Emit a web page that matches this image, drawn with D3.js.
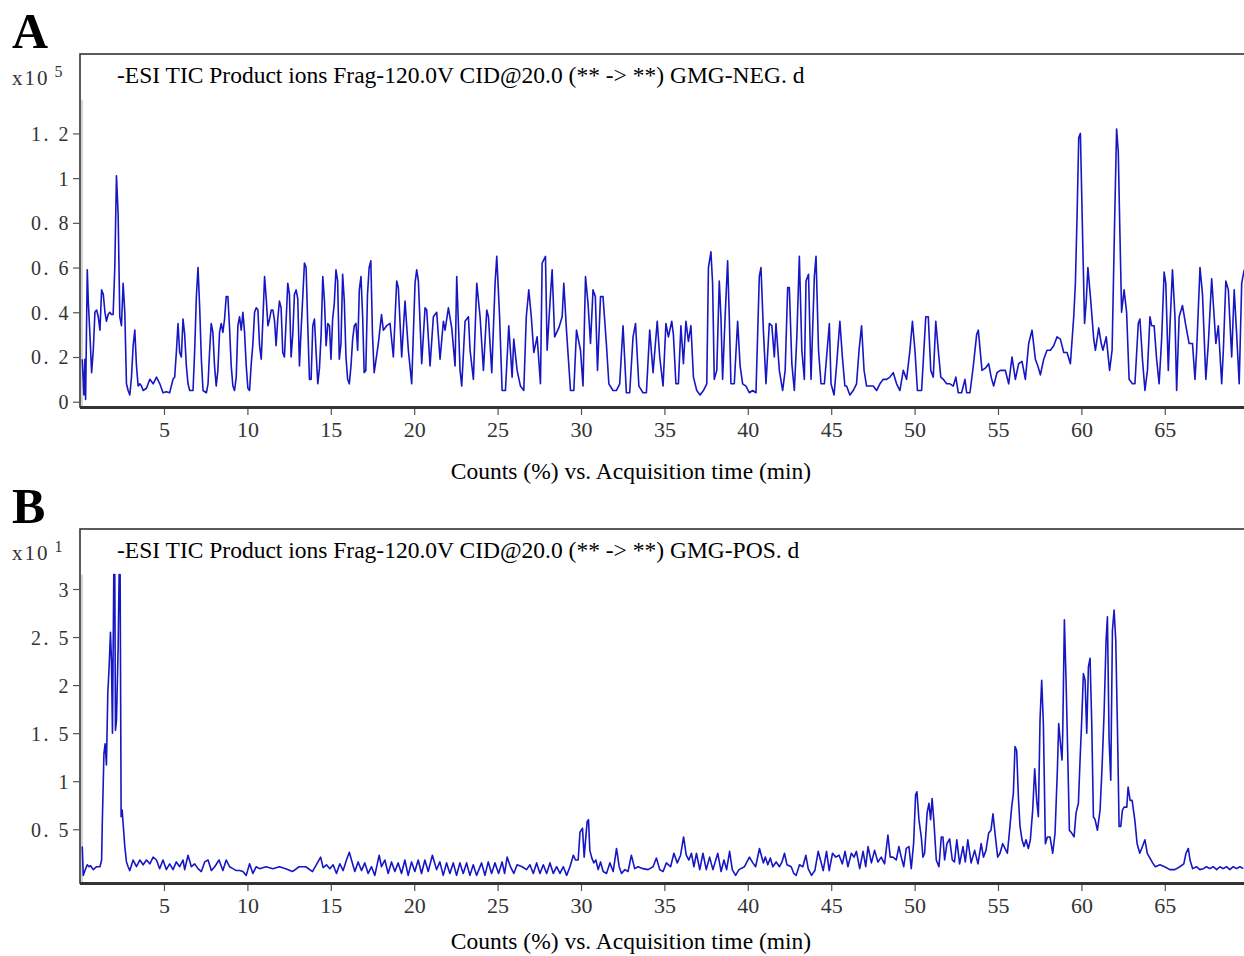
<!DOCTYPE html>
<html>
<head>
<meta charset="utf-8">
<script src="https://cdn.jsdelivr.net/npm/d3@7"></script>
<style>
  body { margin: 0; background: #fff; }
  svg { display: block; }
</style>
</head>
<body>
<div id="chart"></div>
<script>
// time ticks (min), shared by both traces
const timeTicks = [5, 10, 15, 20, 25, 30, 35, 40, 45, 50, 55, 60, 65];

// y ticks for each panel (counts x10^5 and x10^1)
const negTicks = [0, 0.2, 0.4, 0.6, 0.8, 1, 1.2];
const posTicks = [0.5, 1, 1.5, 2, 2.5, 3];

const negTitle = "-ESI TIC Product ions Frag-120.0V CID@20.0 (** -> **) GMG-NEG. d";
const posTitle = "-ESI TIC Product ions Frag-120.0V CID@20.0 (** -> **) GMG-POS. d";
const xTitle = "Counts (%) vs. Acquisition time (min)";

// [time (min), counts]
const negTrace = [
  [0.1,0.19],[0.2,0.03],[0.26,0.19],[0.3,0.01],[0.4,0.59],[0.46,0.45],[0.56,0.3],[0.66,0.13],[0.76,0.23],[0.86,0.4],
  [0.96,0.41],[1.06,0.38],[1.16,0.32],[1.26,0.5],[1.36,0.48],[1.46,0.4],[1.55,0.36],[1.65,0.39],[1.75,0.4],[1.85,0.39],
  [1.95,0.39],[2.05,0.6],[2.15,1.01],[2.25,0.84],[2.35,0.38],[2.45,0.34],[2.55,0.53],[2.65,0.4],[2.75,0.08],[2.85,0.05],
  [2.95,0.03],[3.05,0.11],[3.15,0.25],[3.25,0.32],[3.35,0.16],[3.45,0.07],[3.55,0.08],[3.65,0.07],[3.75,0.05],[3.95,0.06],
  [4.15,0.1],[4.35,0.08],[4.55,0.11],[4.75,0.08],[4.94,0.04],[5.14,0.045],[5.34,0.04],[5.54,0.1],[5.64,0.11],[5.74,0.22],
  [5.84,0.35],[5.94,0.22],[6.04,0.2],[6.14,0.37],[6.24,0.3],[6.34,0.16],[6.44,0.08],[6.54,0.05],[6.74,0.05],[6.84,0.23],
  [6.94,0.47],[7.04,0.6],[7.14,0.42],[7.24,0.19],[7.34,0.05],[7.54,0.04],[7.64,0.08],[7.73,0.22],[7.83,0.35],[7.93,0.31],
  [8.03,0.16],[8.13,0.07],[8.23,0.14],[8.33,0.31],[8.43,0.35],[8.53,0.31],[8.63,0.37],[8.73,0.47],[8.83,0.47],[8.93,0.33],
  [9.03,0.16],[9.13,0.07],[9.23,0.05],[9.33,0.11],[9.43,0.34],[9.53,0.38],[9.63,0.32],[9.73,0.4],[9.83,0.31],[9.93,0.16],
  [10.03,0.06],[10.13,0.05],[10.23,0.17],[10.33,0.26],[10.43,0.4],[10.53,0.42],[10.63,0.41],[10.73,0.25],[10.83,0.19],[10.93,0.37],
  [11.03,0.56],[11.13,0.46],[11.23,0.34],[11.33,0.37],[11.43,0.41],[11.53,0.41],[11.63,0.36],[11.72,0.25],[11.82,0.37],[11.92,0.45],
  [12.02,0.42],[12.12,0.22],[12.22,0.2],[12.32,0.36],[12.42,0.53],[12.52,0.48],[12.62,0.2],[12.72,0.3],[12.82,0.48],[12.92,0.5],
  [13.02,0.46],[13.12,0.16],[13.22,0.32],[13.42,0.62],[13.52,0.6],[13.62,0.34],[13.72,0.1],[13.82,0.1],[13.92,0.34],[14.02,0.37],
  [14.12,0.22],[14.22,0.08],[14.32,0.15],[14.42,0.3],[14.52,0.56],[14.62,0.45],[14.72,0.25],[14.82,0.35],[14.92,0.34],[15.01,0.19],
  [15.11,0.37],[15.21,0.44],[15.31,0.59],[15.41,0.54],[15.51,0.19],[15.61,0.26],[15.71,0.57],[15.81,0.45],[15.91,0.2],[16.01,0.1],
  [16.11,0.08],[16.21,0.16],[16.31,0.28],[16.41,0.34],[16.51,0.35],[16.61,0.23],[16.71,0.5],[16.81,0.56],[16.91,0.38],[17.0,0.13],
  [17.1,0.14],[17.2,0.48],[17.3,0.6],[17.4,0.63],[17.5,0.3],[17.6,0.13],
  [17.85,0.26],[18.04,0.39],[18.15,0.32],[18.35,0.34],[18.55,0.35],[18.75,0.2],[18.95,0.54],[19.05,0.51],[19.25,0.2],[19.45,0.45],
  [19.65,0.23],[19.85,0.08],[20.05,0.53],[20.15,0.59],[20.25,0.54],[20.45,0.17],[20.65,0.42],[20.75,0.41],[20.95,0.16],[21.15,0.38],
  [21.35,0.4],[21.55,0.19],[21.75,0.36],[21.85,0.32],[22.05,0.42],[22.25,0.33],[22.45,0.16],[22.55,0.56],[22.75,0.14],[22.85,0.07],
  [23.05,0.36],[23.25,0.38],[23.35,0.23],[23.55,0.1],[23.75,0.53],[23.95,0.38],[24.15,0.14],[24.35,0.41],[24.45,0.38],[24.65,0.13],
  [24.85,0.53],[24.95,0.65],[25.12,0.38],[25.27,0.05],[25.47,0.05],[25.67,0.34],[25.87,0.11],[25.97,0.28],[26.17,0.14],[26.37,0.07],
  [26.57,0.05],[26.72,0.38],[26.87,0.5],[27.02,0.38],[27.17,0.22],[27.37,0.29],[27.57,0.08],[27.67,0.62],[27.87,0.65],[27.97,0.23],
  [28.17,0.48],[28.27,0.59],[28.42,0.29],[28.67,0.33],[28.87,0.38],[28.97,0.53],[29.12,0.33],[29.37,0.05],[29.57,0.05],[29.73,0.32],
  [29.97,0.23],[30.12,0.07],[30.27,0.56],[30.42,0.44],[30.57,0.26],[30.72,0.5],[30.86,0.47],[30.99,0.14],[31.17,0.47],[31.32,0.47],
  [31.52,0.26],[31.67,0.08],[31.92,0.05],[32.12,0.05],[32.32,0.08],[32.52,0.34],[32.72,0.04],[32.92,0.04],[33.12,0.29],[33.27,0.35],
  [33.47,0.07],[33.72,0.04],[33.92,0.04],[34.12,0.32],[34.32,0.13],[34.57,0.36],[34.72,0.2],[34.92,0.07],
  [35.09,0.35],[35.24,0.29],[35.44,0.36],[35.54,0.3],[35.69,0.08],[35.84,0.08],[35.99,0.34],[36.14,0.17],[36.29,0.36],[36.44,0.27],
  [36.59,0.34],[36.74,0.11],[36.94,0.05],[37.14,0.03],[37.34,0.05],[37.54,0.08],[37.64,0.6],[37.79,0.67],[37.89,0.53],[37.99,0.1],
  [38.14,0.14],[38.29,0.54],[38.39,0.38],[38.49,0.1],[38.64,0.38],[38.79,0.63],[38.89,0.38],[38.99,0.08],[39.19,0.08],[39.39,0.36],
  [39.54,0.16],[39.69,0.08],[39.89,0.07],[40.09,0.04],[40.29,0.05],[40.49,0.04],[40.69,0.56],[40.79,0.6],[40.94,0.31],[41.09,0.08],
  [41.29,0.35],[41.44,0.34],[41.59,0.2],[41.69,0.35],[41.89,0.14],[42.09,0.05],[42.24,0.14],[42.39,0.51],[42.49,0.51],[42.64,0.17],
  [42.79,0.05],[42.94,0.29],[43.09,0.65],[43.24,0.23],[43.39,0.1],[43.49,0.54],[43.64,0.57],[43.79,0.1],[43.99,0.56],[44.09,0.65],
  [44.24,0.23],[44.39,0.08],[44.59,0.08],[44.89,0.35],[44.99,0.08],[45.17,0.03],[45.32,0.16],[45.52,0.36],[45.67,0.2],[45.82,0.07],
  [45.92,0.07],[46.12,0.03],[46.32,0.05],[46.52,0.08],[46.67,0.23],[46.82,0.34],[46.97,0.14],[47.12,0.07],[47.32,0.07],[47.52,0.07],
  [47.72,0.05],[47.92,0.08],[48.12,0.1],[48.32,0.1],[48.52,0.11],[48.72,0.13],[48.92,0.08],[49.12,0.05],[49.32,0.14],[49.52,0.1],
  [49.72,0.23],[49.87,0.36],[50.02,0.23],[50.17,0.05],[50.42,0.05],[50.67,0.38],[50.82,0.38],[50.97,0.14],[51.12,0.11],[51.27,0.36],
  [51.42,0.23],[51.57,0.11],[51.72,0.1],[51.92,0.08],[52.12,0.08],[52.32,0.07],[52.47,0.11],[52.62,0.04],[52.82,0.04],[53.02,0.1],
  [53.12,0.04],[53.32,0.04],[53.52,0.16],[53.72,0.3],[53.82,0.32],
  [54.04,0.14],[54.24,0.15],[54.44,0.17],[54.59,0.11],[54.74,0.07],[54.94,0.13],[55.14,0.14],[55.44,0.14],[55.64,0.08],[55.84,0.2],
  [56.04,0.1],[56.24,0.17],[56.44,0.18],[56.64,0.1],[56.84,0.26],[57.04,0.32],[57.24,0.19],[57.39,0.16],[57.54,0.12],[57.74,0.19],
  [57.94,0.23],[58.14,0.23],[58.34,0.25],[58.54,0.29],[58.74,0.28],[58.94,0.22],[59.14,0.22],[59.34,0.17],[59.54,0.38],[59.64,0.53],
  [59.74,0.83],[59.84,1.18],[59.94,1.2],[60.09,0.68],[60.19,0.35],[60.29,0.45],[60.39,0.6],[60.54,0.47],[60.74,0.28],[60.84,0.23],
  [61.04,0.33],[61.19,0.26],[61.29,0.23],[61.49,0.29],[61.69,0.14],[61.84,0.23],[61.99,0.8],[62.11,1.22],[62.21,1.12],[62.31,0.75],
  [62.41,0.4],[62.56,0.5],[62.71,0.4],[62.86,0.1],[63.06,0.08],[63.21,0.08],[63.41,0.35],[63.51,0.37],[63.66,0.19],[63.81,0.05],
  [63.96,0.14],[64.11,0.38],[64.21,0.34],[64.36,0.34],[64.51,0.19],[64.66,0.08],[64.81,0.28],[64.96,0.58],[65.06,0.53],[65.21,0.14],
  [65.31,0.34],[65.46,0.59],[65.61,0.38],[65.71,0.05],[65.86,0.38],[66.06,0.43],[66.26,0.34],[66.46,0.26],[66.66,0.26],[66.81,0.1],
  [66.91,0.23],[67.11,0.6],[67.26,0.48],[67.46,0.1],[67.61,0.26],[67.81,0.55],[67.96,0.38],[68.06,0.26],[68.21,0.34],[68.41,0.08],
  [68.51,0.23],[68.66,0.54],[68.81,0.5],[69.01,0.2],[69.16,0.5],[69.31,0.3],[69.46,0.08],[69.61,0.53],[69.76,0.59]
];

// [time (min), counts] (3.15 = clipped at the top)
const posTrace = [
  [0.1,0.32],[0.16,0.02],[0.26,0.07],[0.4,0.13],[0.5,0.11],[0.6,0.12],[0.76,0.08],[0.96,0.11],[1.16,0.11],[1.26,0.18],
  [1.3,0.56],[1.4,1.29],[1.47,1.39],[1.55,1.17],[1.63,1.91],[1.71,2.19],[1.79,2.55],[1.85,2.26],[1.91,1.5],[1.99,3.15],
  [2.05,3.15],[2.09,1.53],[2.15,1.63],[2.25,2.39],[2.31,3.15],[2.37,3.15],[2.43,0.63],[2.49,0.7],[2.55,0.56],[2.65,0.32],
  [2.75,0.16],[2.85,0.11],[2.95,0.07],[3.15,0.18],[3.35,0.11],[3.55,0.18],[3.75,0.13],[3.95,0.18],[4.15,0.14],[4.35,0.21],
  [4.55,0.18],[4.74,0.09],[4.94,0.18],[5.14,0.08],[5.34,0.14],[5.54,0.08],[5.74,0.16],[5.94,0.11],[6.14,0.18],[6.24,0.08],
  [6.44,0.23],[6.64,0.11],[6.84,0.14],[7.04,0.09],[7.24,0.06],[7.44,0.16],[7.64,0.18],[7.84,0.07],[8.04,0.11],[8.3,0.18],
  [8.53,0.07],[8.73,0.18],[8.93,0.11],[9.13,0.09],[9.33,0.07],[9.53,0.07],[9.73,0.06],[9.93,0.02],[10.13,0.14],[10.33,0.04],
  [10.53,0.11],[10.73,0.09],[11.12,0.11],[11.52,0.09],[11.92,0.11],[12.3,0.09],[12.7,0.06],[13.1,0.11],[13.5,0.11],[13.9,0.06],
  [14.39,0.21],[14.54,0.1],[14.74,0.13],[14.94,0.09],[15.14,0.13],[15.34,0.04],[15.54,0.14],[15.74,0.07],[15.94,0.18],[16.11,0.26],
  [16.24,0.18],[16.44,0.06],[16.64,0.16],[16.84,0.07],[17.04,0.15],[17.24,0.04],[17.44,0.11],[17.64,0.02],[17.9,0.23],[18.04,0.11],
  [18.24,0.18],[18.44,0.04],[18.64,0.16],[18.84,0.06],[19.04,0.15],[19.24,0.04],[19.44,0.18],[19.64,0.02],[19.84,0.16],[20.04,0.06],
  [20.24,0.18],[20.44,0.04],[20.64,0.18],[20.84,0.06],[21.09,0.23],[21.34,0.08],[21.54,0.16],[21.74,0.02],[21.94,0.15],[22.14,0.04],
  [22.34,0.15],[22.54,0.02],[22.74,0.15],[22.94,0.04],[23.14,0.15],[23.34,0.02],[23.54,0.13],[23.74,0.02],[24.04,0.15],[24.24,0.02],
  [24.44,0.16],[24.64,0.04],[24.84,0.15],[25.06,0.04],[25.27,0.16],[25.42,0.04],[25.57,0.21],[25.77,0.11],[25.97,0.04],[26.17,0.13],
  [26.47,0.11],[26.74,0.08],[26.94,0.13],[27.14,0.04],[27.34,0.15],[27.54,0.04],[27.74,0.13],[27.94,0.04],[28.14,0.15],[28.34,0.04],
  [28.54,0.11],[28.74,0.04],[28.94,0.11],[29.14,0.02],[29.34,0.11],[29.54,0.23],[29.67,0.18],[29.83,0.18],[29.94,0.47],[30.09,0.51],
  [30.19,0.21],[30.29,0.42],[30.37,0.58],[30.45,0.6],[30.53,0.28],[30.65,0.2],[30.77,0.15],[30.89,0.18],[31.03,0.08],[31.17,0.16],
  [31.33,0.06],[31.53,0.04],[31.73,0.15],[31.93,0.06],[32.13,0.3],[32.29,0.11],[32.43,0.04],[32.63,0.08],[32.82,0.06],[33.02,0.23],
  [33.22,0.09],[33.42,0.11],[33.72,0.09],[34.02,0.08],[34.32,0.11],[34.52,0.2],[34.72,0.08],[34.92,0.06],[35.12,0.15],[35.37,0.11],
  [35.57,0.25],[35.77,0.15],[35.97,0.23],[36.15,0.42],[36.31,0.23],[36.47,0.18],[36.62,0.25],[36.77,0.11],[36.92,0.25],[37.12,0.08],
  [37.31,0.25],[37.51,0.08],[37.71,0.21],[37.91,0.08],[38.2,0.25],[38.4,0.06],[38.57,0.18],[38.73,0.08],[38.91,0.27],[39.07,0.08],
  [39.27,0.02],[39.47,0.08],[39.8,0.11],[40.1,0.21],[40.3,0.15],[40.47,0.11],[40.7,0.3],
  [40.93,0.15],[41.05,0.21],[41.2,0.13],[41.35,0.2],[41.5,0.11],[41.7,0.16],[41.9,0.11],[42.05,0.16],[42.2,0.25],[42.35,0.13],
  [42.6,0.11],[42.76,0.04],[42.9,0.02],[43.1,0.13],[43.3,0.11],[43.48,0.23],[43.62,0.09],[43.82,0.02],[44.02,0.07],[44.22,0.27],
  [44.36,0.18],[44.52,0.07],[44.72,0.27],[44.88,0.07],[45.08,0.25],[45.28,0.21],[45.47,0.23],[45.67,0.14],[45.83,0.27],[46.0,0.11],
  [46.21,0.25],[46.37,0.21],[46.51,0.27],[46.71,0.09],[46.91,0.27],[47.07,0.11],[47.21,0.32],[47.41,0.15],[47.6,0.28],[47.8,0.16],
  [48.0,0.21],[48.2,0.14],[48.4,0.44],[48.54,0.21],[48.7,0.21],[48.9,0.18],[49.06,0.32],[49.2,0.21],[49.35,0.11],[49.5,0.3],
  [49.66,0.32],[49.8,0.09],[49.94,0.35],[50.06,0.86],[50.14,0.89],[50.26,0.6],[50.4,0.42],[50.5,0.21],[50.6,0.25],[50.75,0.67],
  [50.86,0.77],[50.96,0.6],[51.05,0.82],[51.15,0.6],[51.3,0.18],[51.46,0.11],[51.6,0.42],[51.7,0.42],[51.8,0.18],[51.94,0.35],
  [52.1,0.4],[52.26,0.18],[52.39,0.16],[52.53,0.39],[52.7,0.14],[52.9,0.32],[53.04,0.16],[53.19,0.39],[53.39,0.15],[53.6,0.28],
  [53.8,0.14],[53.99,0.35],[54.13,0.21],[54.28,0.28],[54.44,0.46],[54.58,0.49],[54.7,0.66],[54.82,0.46],[54.98,0.21],[55.12,0.25],
  [55.28,0.35],[55.42,0.3],[55.56,0.25],[55.68,0.46],[55.82,0.73],[55.92,0.87],[56.02,1.36],[56.12,1.32],[56.22,0.84],[56.32,0.53],
  [56.44,0.39],[56.56,0.32],[56.68,0.39],[56.82,0.3],[56.94,0.39],[57.08,0.7],[57.2,1.13],[57.32,0.8],[57.42,0.63],[57.52,1.64],
  [57.62,2.05],[57.72,1.6],[57.84,0.35],[57.96,0.42],[58.12,0.42],[58.28,0.25],[58.42,0.46],[58.56,1.12],[58.64,1.6],[58.76,1.36],
  [58.84,1.22],[58.88,1.5],[58.98,2.68],[59.08,2.05],[59.18,1.29],[59.28,0.49],[59.42,0.46],[59.56,0.42],[59.68,0.67],[59.82,0.77],
  [59.92,1.22],[60.02,1.64],[60.12,2.12],[60.22,2.05],[60.32,1.5],[60.42,2.19],[60.52,2.28],[60.62,1.6],[60.72,0.63],[60.82,0.6],
  [60.96,0.49],[61.12,0.7],[61.24,1.15],[61.36,1.71],[61.48,2.47],[61.56,2.71],[61.66,1.43],[61.76,1.01],[61.86,2.57],[61.96,2.78],
  [62.06,2.47],[62.16,1.57],[62.26,0.53],[62.36,0.53],[62.46,0.7],[62.56,0.73],[62.72,0.73],[62.8,0.94],[62.92,0.8],[63.04,0.8],
  [63.2,0.6],[63.34,0.35],[63.5,0.25],[63.66,0.32],[63.81,0.39],[63.95,0.25],[64.11,0.2],[64.27,0.15],[64.43,0.11],[64.71,0.13],
  [64.99,0.11],[65.3,0.08],[65.6,0.08],[65.9,0.11],[66.14,0.14],[66.27,0.25],[66.41,0.3],[66.51,0.18],[66.67,0.09],[66.9,0.11],
  [67.1,0.08],[67.31,0.09],[67.5,0.11],[67.7,0.09],[67.9,0.11],[68.11,0.08],[68.3,0.11],[68.5,0.09],[68.7,0.11],[68.9,0.08],
  [69.1,0.11],[69.3,0.09],[69.5,0.11],[69.71,0.09]
];

const width = 1244;
const height = 956;
const serif = "'Liberation Serif', 'Times New Roman', serif";
const lineColor = "#1616c4";

const svg = d3
  .select("#chart")
  .append("svg")
  .attr("width", width)
  .attr("height", height);

const x = d3.scaleLinear().domain([0, 65]).range([80.6, 1164.8]);

const panels = [
  {
    id: "neg", letter: "A", title: negTitle, exp: "5", trace: negTrace, ticks: negTicks,
    top: 54, bottom: 407, xTitleY: 479,
    y: d3.scaleLinear().domain([0, 1.2]).range([401.7, 133.4]), yTop: 1.35
  },
  {
    id: "pos", letter: "B", title: posTitle, exp: "1", trace: posTrace, ticks: posTicks,
    top: 529, bottom: 883, xTitleY: 949,
    y: d3.scaleLinear().domain([0, 3]).range([877.3, 589]), yTop: 3.15
  }
];

const fmt = (d) => (Number.isInteger(d) ? String(d) : d3.format(".1f")(d).replace(".", ". "));

panels.forEach((p) => {
  const left = 80;

  // panel letter
  svg.append("text")
    .attr("x", 12)
    .attr("y", p.top - 6)
    .style("font-family", serif)
    .style("font-weight", "bold")
    .style("font-size", "50px")
    .text(p.letter);

  svg.append("clipPath")
    .attr("id", "clip-" + p.id)
    .append("rect")
    .attr("x", left)
    .attr("y", p.top)
    .attr("width", width - left + 10)
    .attr("height", p.bottom - p.top);

  // faint inner axis line
  svg.append("line")
    .attr("x1", 82).attr("x2", 82)
    .attr("y1", p.y(p.yTop)).attr("y2", p.bottom)
    .attr("stroke", "#aaa")
    .attr("stroke-width", 1);

  const line = d3.line()
    .x((d) => x(d[0]))
    .y((d) => p.y(d[1]));

  svg.append("path")
    .datum(p.trace)
    .attr("clip-path", `url(#clip-${p.id})`)
    .attr("d", line)
    .attr("fill", "none")
    .attr("stroke", lineColor)
    .attr("stroke-width", 1.6)
    .attr("stroke-linejoin", "round");

  // frame
  svg.append("rect")
    .attr("x", left)
    .attr("y", p.top)
    .attr("width", width - left + 10)
    .attr("height", p.bottom - p.top)
    .attr("fill", "none")
    .attr("stroke", "#333")
    .attr("stroke-width", 1.6);

  svg.append("line")
    .attr("x1", left).attr("x2", width)
    .attr("y1", p.bottom + 0.5).attr("y2", p.bottom + 0.5)
    .attr("stroke", "#333")
    .attr("stroke-width", 3);

  // x axis
  const gx = svg.append("g")
    .attr("transform", `translate(0,${p.bottom + 2})`)
    .call(d3.axisBottom(x).tickValues(timeTicks).tickSize(6).tickFormat(d3.format("d")));
  gx.select(".domain").remove();
  gx.selectAll("line").attr("stroke", "#555").attr("stroke-width", 1.2);
  gx.selectAll("text")
    .attr("y", 28)
    .attr("dy", null)
    .attr("fill", "#333")
    .style("font-family", serif)
    .style("font-size", "22px");

  // y axis
  const gy = svg.append("g")
    .attr("transform", `translate(${left},0)`)
    .call(d3.axisLeft(p.y).tickValues(p.ticks).tickSize(7).tickFormat(fmt));
  gy.select(".domain").remove();
  gy.selectAll("line").attr("stroke", "#555").attr("stroke-width", 1.2);
  gy.selectAll("text")
    .attr("x", -9)
    .attr("dy", "0.35em")
    .attr("fill", "#333")
    .style("font-family", serif)
    .style("font-size", "20px")
    .style("letter-spacing", "2.5px")
    .style("white-space", "pre");

  // multiplier label
  const mult = svg.append("text")
    .attr("x", 12)
    .attr("y", p.top + 31)
    .attr("fill", "#333")
    .style("font-family", serif)
    .style("font-size", "21px")
    .style("letter-spacing", "2px");
  mult.append("tspan").text("x10");
  mult.append("tspan")
    .attr("dx", 5)
    .attr("dy", -8)
    .style("font-size", "16px")
    .text(p.exp);

  // run title
  svg.append("text")
    .attr("x", 117)
    .attr("y", p.top + 29)
    .style("font-family", serif)
    .style("font-size", "23.5px")
    .text(p.title);

  // x axis title
  svg.append("text")
    .attr("x", 631)
    .attr("y", p.xTitleY)
    .attr("text-anchor", "middle")
    .style("font-family", serif)
    .style("font-size", "23.5px")
    .text(xTitle);
});
</script>
</body>
</html>
